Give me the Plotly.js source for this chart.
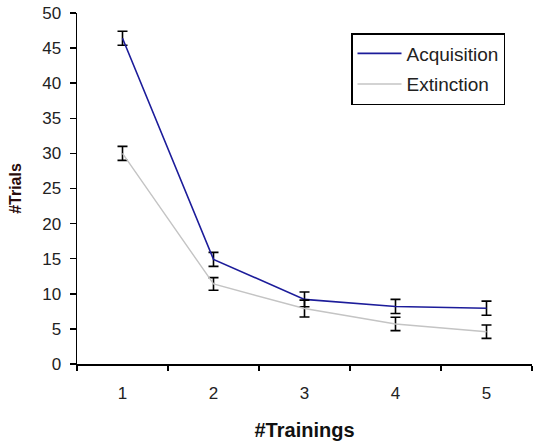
<!DOCTYPE html>
<html>
<head>
<meta charset="utf-8">
<script src="https://cdn.plot.ly/plotly-3.0.1.min.js"></script>
<style>
  html, body { margin: 0; padding: 0; background: #fff; }
  #chart { width: 535px; height: 442px; }
</style>
</head>
<body>
<div id="chart"></div>
<script>
const trainings = ["1", "2", "3", "4", "5"];
const acquisition = [46.4, 14.9, 9.2, 8.2, 7.95];
const acquisitionErr = [1.0, 1.0, 1.05, 1.0, 1.0];
const extinction = [30.0, 11.4, 7.9, 5.7, 4.6];
const extinctionErr = [1.0, 0.9, 1.2, 0.95, 0.95];

const errStyle = (arr) => ({
  type: 'data', array: arr, visible: true,
  color: '#000', thickness: 1.6, width: 5
});

const traces = [
  {
    x: trainings, y: acquisition, name: 'Acquisition', type: 'scatter', mode: 'lines',
    line: { color: '#1c1c9a', width: 1.6 },
    error_y: errStyle(acquisitionErr),
    legendgroup: 'a'
  },
  {
    x: trainings, y: extinction, name: 'Extinction', type: 'scatter', mode: 'lines',
    line: { color: '#c4c4c4', width: 1.4 },
    error_y: errStyle(extinctionErr),
    legendgroup: 'b'
  }
];

const layout = {
  width: 535, height: 442,
  margin: { l: 77, r: 3, t: 13, b: 78 },
  paper_bgcolor: '#fff', plot_bgcolor: '#fff',
  font: { family: 'Liberation Sans, Arial, sans-serif', size: 17, color: '#222' },
  showlegend: true,
  legend: {
    bordercolor: '#000', borderwidth: 1.5, bgcolor: '#fff',
    traceorder: 'grouped', tracegroupgap: 3, itemwidth: 44,
    font: { size: 19, color: '#222' }
  },
  xaxis: {
    type: 'category', range: [-0.5, 4.5],
    showline: true, linecolor: '#000', linewidth: 1.5,
    showgrid: false, zeroline: false,
    ticks: 'outside', tickson: 'boundaries', ticklen: 5, tickwidth: 1.5, tickcolor: '#000',
    ticklabelstandoff: 13,
    tickfont: { size: 17, color: '#222' },
    title: { text: '<b>#Trainings</b>', font: { size: 20, color: '#111' }, standoff: 21 }
  },
  yaxis: {
    range: [0, 50], tickvals: [0, 5, 10, 15, 20, 25, 30, 35, 40, 45, 50],
    showline: true, linecolor: '#000', linewidth: 1.5,
    showgrid: false, zeroline: false,
    ticks: 'outside', ticklen: 6, tickwidth: 1.5, tickcolor: '#000',
    ticklabelstandoff: 5,
    tickfont: { size: 17, color: '#222' },
    title: { text: '<b>#Trials</b>', font: { size: 16, color: '#2a0c0c' }, standoff: 16 }
  }
};

// legend position in pixels -> paper coords
const plotW = 535 - 77 - 3, plotH = 442 - 13 - 78;
layout.legend.x = (351 - 77) / plotW;
layout.legend.y = 1 - (33 - 13) / plotH;
layout.legend.xanchor = 'left';
layout.legend.yanchor = 'top';

Plotly.newPlot('chart', traces, layout, { staticPlot: true, displayModeBar: false });
</script>
</body>
</html>
